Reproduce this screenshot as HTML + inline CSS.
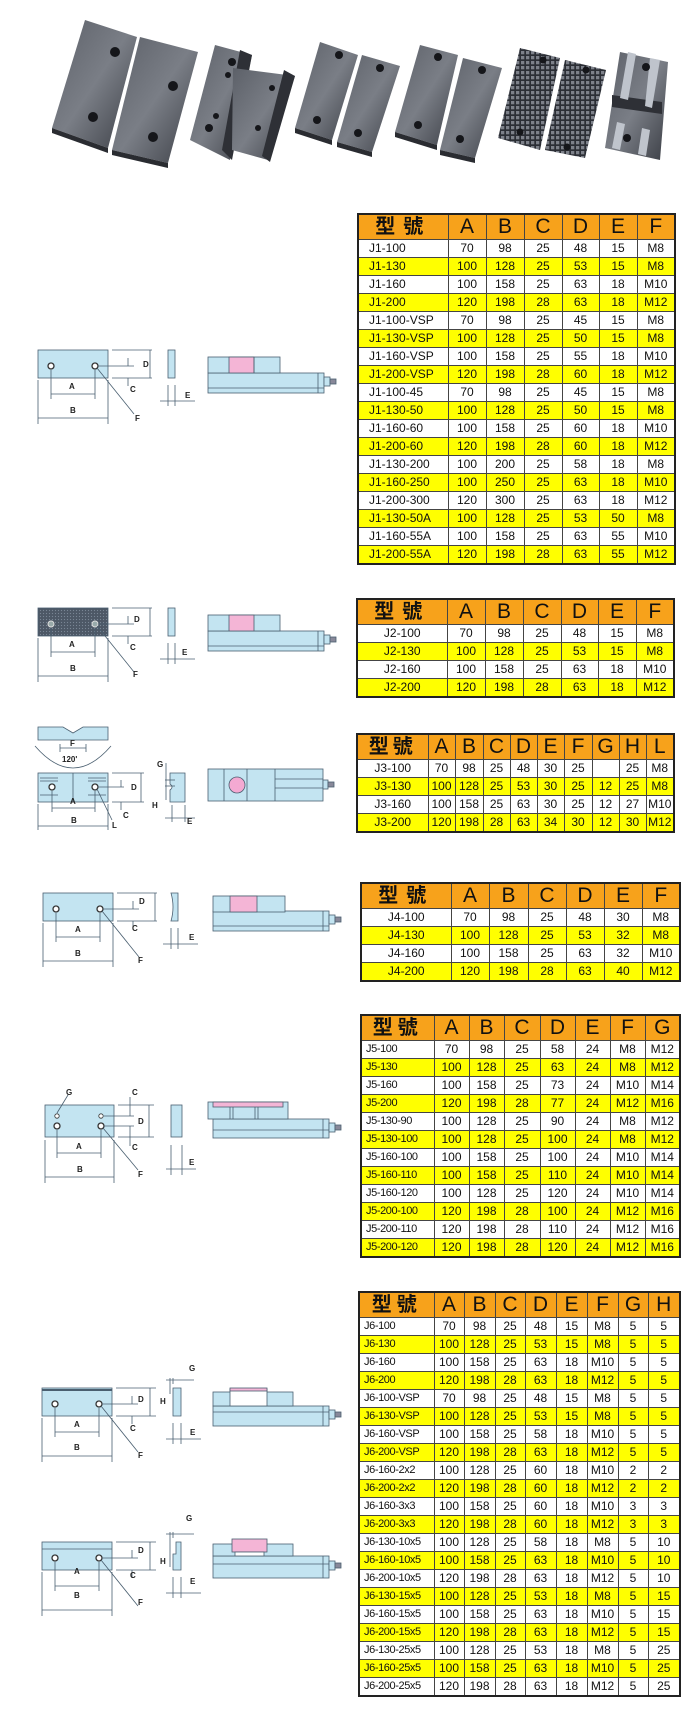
<!DOCTYPE html>
<html><head><meta charset="utf-8">
<style>
html,body{margin:0;padding:0;background:#fff;}
body{width:700px;height:1716px;position:relative;overflow:hidden;font-family:"Liberation Sans","Noto Sans CJK TC",sans-serif;}
table{position:absolute;border-collapse:collapse;table-layout:fixed;border:2px solid #222;}
td{border:1px solid #444;padding:0;text-align:center;font-size:12px;color:#111;height:17px;line-height:17px;overflow:hidden;white-space:nowrap;}
tr.h td{background:#f7a21b;font-size:21px;height:24px;line-height:24px;color:#111;}
tr.h td:first-child{font-family:"Liberation Sans","Noto Sans CJK TC",sans-serif;font-weight:bold;letter-spacing:8px;font-size:20px;}
tr.y td{background:#ffff00;}
td.m{text-align:left;padding-left:10px;}
table.n td.m{padding-left:4px;font-size:11px;letter-spacing:-0.4px;}
svg{position:absolute;left:0;top:0;}
</style></head><body>
<svg width="700" height="1716" viewBox="0 0 700 1716" xmlns="http://www.w3.org/2000/svg" font-family="Liberation Sans, sans-serif">
<defs>
<linearGradient id="st" x1="0" y1="0" x2="1" y2="1"><stop offset="0" stop-color="#5c6068"/><stop offset="0.5" stop-color="#7a7e86"/><stop offset="1" stop-color="#3a3d44"/></linearGradient>
<pattern id="grid" width="5" height="5" patternUnits="userSpaceOnUse"><rect width="5" height="5" fill="#2b2e35"/><rect x="1" y="1" width="3.3" height="3.3" fill="#7d818a"/></pattern>
<pattern id="dots" width="3" height="3" patternUnits="userSpaceOnUse"><rect width="3" height="3" fill="#4d5866"/><circle cx="1.5" cy="1.5" r="0.6" fill="#7a8695"/></pattern>
</defs>
<!-- photo -->
<g stroke="none">
<polygon points="85,20 137,37 108,148 52,128" fill="url(#st)"/><polygon points="52,128 108,148 108,153 52,133" fill="#2a2c31"/>
<polygon points="140,37 198,52 168,163 112,150" fill="url(#st)"/><polygon points="112,150 168,163 168,168 112,155" fill="#2a2c31"/>
<polygon points="215,45 252,55 230,160 190,140" fill="url(#st)"/><polygon points="240,50 252,55 232,160 222,150" fill="#2e3036"/>
<polygon points="233,68 295,76 268,160 232,150" fill="url(#st)"/><polygon points="284,70 295,76 270,162 262,156" fill="#2e3036"/>
<polygon points="320,42 358,55 332,140 295,128" fill="url(#st)"/><polygon points="295,128 332,140 332,145 295,133" fill="#2a2c31"/>
<polygon points="362,55 400,66 372,152 337,142" fill="url(#st)"/><polygon points="337,142 372,152 372,157 337,147" fill="#2a2c31"/>
<polygon points="420,45 458,55 437,145 395,132" fill="url(#st)"/><polygon points="395,132 437,145 437,150 395,137" fill="#2a2c31"/>
<polygon points="463,58 502,68 475,158 440,150" fill="url(#st)"/><polygon points="440,150 475,158 475,163 440,155" fill="#2a2c31"/>
<polygon points="520,48 560,58 540,150 498,138" fill="url(#grid)"/>
<polygon points="565,60 606,70 585,158 545,150" fill="url(#grid)"/>
<polygon points="620,52 668,62 660,160 605,148" fill="url(#st)"/><rect x="612" y="95" width="50" height="12" fill="#2e3036" transform="skewY(8) translate(0,-86)"/>
<polygon points="628,52 636,54 628,100 620,98" fill="#bfc4cc"/><polygon points="650,58 660,60 652,108 645,106" fill="#bfc4cc"/>
<polygon points="617,122 625,124 620,150 612,148" fill="#bfc4cc"/><polygon points="642,128 650,130 646,156 638,154" fill="#bfc4cc"/>
</g>
<g fill="#15161a">
<circle cx="115" cy="52" r="5"/><circle cx="93" cy="117" r="5"/><circle cx="173" cy="86" r="5"/><circle cx="153" cy="137" r="5"/>
<circle cx="232" cy="62" r="4"/><circle cx="228" cy="75" r="3"/><circle cx="216" cy="116" r="3"/><circle cx="209" cy="128" r="4"/>
<circle cx="272" cy="88" r="3"/><circle cx="258" cy="128" r="3"/>
<circle cx="339" cy="55" r="4"/><circle cx="317" cy="120" r="4"/><circle cx="380" cy="68" r="4"/><circle cx="358" cy="133" r="4"/>
<circle cx="438" cy="57" r="4"/><circle cx="418" cy="125" r="4"/><circle cx="482" cy="70" r="4"/><circle cx="460" cy="139" r="4"/>
<circle cx="543" cy="60" r="3.5"/><circle cx="520" cy="132" r="3.5"/><circle cx="586" cy="70" r="3.5"/><circle cx="567" cy="147" r="3.5"/>
<circle cx="646" cy="67" r="4"/><circle cx="627" cy="138" r="4"/>
</g>

<!-- Diagram J1 -->
<g stroke="#4a5f70" stroke-width="0.8" fill="none" font-size="8" font-weight="bold">
<rect x="38" y="350" width="70" height="28" fill="#c3e4f1"/>
<circle cx="51" cy="366" r="3" fill="#fff" stroke="#333" stroke-width="1.3"/><circle cx="95" cy="366" r="3" fill="#fff" stroke="#333" stroke-width="1.3"/>
<line x1="112" y1="350" x2="152" y2="350"/><line x1="112" y1="378" x2="152" y2="378"/><line x1="150" y1="350" x2="150" y2="378"/>
<line x1="98" y1="366" x2="134" y2="366"/><line x1="128" y1="358" x2="128" y2="366"/><line x1="128" y1="378" x2="128" y2="386"/>
<line x1="51" y1="370" x2="51" y2="399"/><line x1="95" y1="370" x2="95" y2="399"/><line x1="51" y1="394" x2="95" y2="394"/>
<line x1="38" y1="380" x2="38" y2="424"/><line x1="108" y1="380" x2="108" y2="424"/><line x1="38" y1="418" x2="108" y2="418"/>
<line x1="97" y1="368" x2="134" y2="414"/>
<rect x="168" y="350" width="7" height="28" fill="#c3e4f1"/>
<line x1="168" y1="385" x2="168" y2="406"/><line x1="175" y1="385" x2="175" y2="406"/><line x1="160" y1="401" x2="195" y2="401"/>
<rect x="208" y="373" width="116" height="20" fill="#c3e4f1"/><line x1="208" y1="388" x2="324" y2="388"/><line x1="318" y1="373" x2="318" y2="393"/>
<rect x="208" y="357" width="72" height="16" fill="#c3e4f1"/><rect x="229" y="357" width="25" height="16" fill="#f4b5d6"/><line x1="254" y1="357" x2="254" y2="373"/>
<rect x="324" y="377" width="6" height="9" fill="#c3e4f1"/><rect x="330" y="379" width="6" height="5" fill="#889"/>
<g fill="#222" stroke="none"><text x="143" y="367">D</text><text x="130" y="392">C</text><text x="69" y="389">A</text><text x="70" y="413">B</text><text x="135" y="421">F</text><text x="185" y="398">E</text></g>
</g>

<!-- J2 -->
<g stroke="#4a5f70" stroke-width="0.8" fill="none" font-size="8" font-weight="bold" transform="translate(0,258)">
<rect x="38" y="350" width="70" height="28" fill="url(#dots)"/>
<circle cx="51" cy="366" r="3" fill="#9aa" stroke="#ddd" stroke-width="1"/><circle cx="95" cy="366" r="3" fill="#9aa" stroke="#ddd" stroke-width="1"/>
<line x1="112" y1="350" x2="152" y2="350"/><line x1="112" y1="378" x2="152" y2="378"/><line x1="150" y1="350" x2="150" y2="378"/>
<line x1="98" y1="366" x2="134" y2="366"/><line x1="128" y1="358" x2="128" y2="366"/><line x1="128" y1="378" x2="128" y2="386"/>
<line x1="51" y1="370" x2="51" y2="399"/><line x1="95" y1="370" x2="95" y2="399"/><line x1="51" y1="394" x2="95" y2="394"/>
<line x1="38" y1="380" x2="38" y2="424"/><line x1="108" y1="380" x2="108" y2="424"/><line x1="38" y1="418" x2="108" y2="418"/>
<line x1="97" y1="368" x2="134" y2="414"/>
<rect x="168" y="350" width="7" height="28" fill="#c3e4f1"/>
<line x1="168" y1="385" x2="168" y2="406"/><line x1="175" y1="385" x2="175" y2="406"/><line x1="160" y1="401" x2="195" y2="401"/>
<rect x="208" y="373" width="116" height="20" fill="#c3e4f1"/><line x1="208" y1="388" x2="324" y2="388"/><line x1="318" y1="373" x2="318" y2="393"/>
<rect x="208" y="357" width="72" height="16" fill="#c3e4f1"/><rect x="229" y="357" width="25" height="16" fill="#f4b5d6"/>
<rect x="324" y="377" width="6" height="9" fill="#c3e4f1"/><rect x="330" y="379" width="6" height="5" fill="#889"/>
<g fill="#222" stroke="none"><text x="134" y="364">D</text><text x="130" y="392">C</text><text x="69" y="389">A</text><text x="70" y="413">B</text><text x="133" y="419">F</text><text x="182" y="397">E</text></g>
</g>

<!-- J3 -->
<g stroke="#4a5f70" stroke-width="0.8" fill="none" font-size="8" font-weight="bold">
<path d="M38,727 L63,727 L73,733 L83,727 L108,727 L108,740 L38,740 Z" fill="#c3e4f1"/>
<path d="M35,746 Q73,790 111,746"/><line x1="60" y1="744" x2="60" y2="752"/><line x1="86" y1="744" x2="86" y2="752"/><line x1="60" y1="748" x2="86" y2="748"/>
<rect x="38" y="773" width="70" height="29" fill="#c3e4f1"/><line x1="73" y1="773" x2="73" y2="802"/>
<line x1="40" y1="778" x2="58" y2="778"/><line x1="40" y1="781" x2="58" y2="781"/><line x1="40" y1="795" x2="58" y2="795"/>
<line x1="88" y1="778" x2="106" y2="778"/><line x1="88" y1="781" x2="106" y2="781"/><line x1="88" y1="795" x2="106" y2="795"/>
<circle cx="52" cy="787" r="3" fill="#fff" stroke="#333" stroke-width="1.3"/><circle cx="95" cy="787" r="3" fill="#fff" stroke="#333" stroke-width="1.3"/>
<line x1="112" y1="773" x2="144" y2="773"/><line x1="112" y1="802" x2="144" y2="802"/><line x1="141" y1="773" x2="141" y2="802"/>
<line x1="98" y1="787" x2="124" y2="787"/><line x1="121" y1="780" x2="121" y2="787"/><line x1="121" y1="802" x2="121" y2="810"/>
<line x1="52" y1="791" x2="52" y2="812"/><line x1="95" y1="791" x2="95" y2="812"/><line x1="52" y1="808" x2="95" y2="808"/>
<line x1="38" y1="804" x2="38" y2="830"/><line x1="108" y1="804" x2="108" y2="830"/><line x1="38" y1="826" x2="108" y2="826"/>
<line x1="97" y1="789" x2="112" y2="820"/>
<path d="M170,773 L185,773 L185,802 L170,802 L170,790 Q174,787 170,784 Z" fill="#c3e4f1"/>
<line x1="165" y1="780" x2="175" y2="780"/><line x1="165" y1="786" x2="175" y2="786"/><line x1="166" y1="763" x2="166" y2="800"/>
<line x1="172" y1="805" x2="172" y2="822"/><line x1="185" y1="805" x2="185" y2="822"/><line x1="165" y1="818" x2="195" y2="818"/>
<rect x="208" y="769" width="115" height="32" fill="#c3e4f1"/><line x1="224" y1="769" x2="224" y2="801"/><line x1="247" y1="769" x2="247" y2="801"/><line x1="275" y1="769" x2="275" y2="801"/>
<line x1="275" y1="779" x2="323" y2="779"/><line x1="275" y1="788" x2="323" y2="788"/>
<circle cx="237" cy="785" r="8" fill="#f4a9d2"/>
<rect x="323" y="780" width="5" height="9" fill="#c3e4f1"/><rect x="328" y="782" width="6" height="5" fill="#889"/>
<g fill="#222" stroke="none"><text x="70" y="746">F</text><text x="62" y="762">120'</text><text x="131" y="790">D</text><text x="123" y="818">C</text><text x="70" y="804">A</text><text x="71" y="823">B</text><text x="112" y="828">L</text><text x="157" y="767">G</text><text x="152" y="808">H</text><text x="187" y="824">E</text></g>
</g>

<!-- J4 -->
<g stroke="#4a5f70" stroke-width="0.8" fill="none" font-size="8" font-weight="bold" transform="translate(5,543)">
<rect x="38" y="350" width="70" height="28" fill="#c3e4f1"/>
<circle cx="51" cy="366" r="3" fill="#fff" stroke="#333" stroke-width="1.3"/><circle cx="95" cy="366" r="3" fill="#fff" stroke="#333" stroke-width="1.3"/>
<line x1="112" y1="350" x2="152" y2="350"/><line x1="112" y1="378" x2="152" y2="378"/><line x1="150" y1="350" x2="150" y2="378"/>
<line x1="98" y1="366" x2="134" y2="366"/><line x1="128" y1="358" x2="128" y2="366"/><line x1="128" y1="378" x2="128" y2="386"/>
<line x1="51" y1="370" x2="51" y2="399"/><line x1="95" y1="370" x2="95" y2="399"/><line x1="51" y1="394" x2="95" y2="394"/>
<line x1="38" y1="380" x2="38" y2="424"/><line x1="108" y1="380" x2="108" y2="424"/><line x1="38" y1="418" x2="108" y2="418"/>
<line x1="97" y1="368" x2="134" y2="414"/>
<path d="M166,350 L173,350 L173,378 L166,378 Q170,364 166,350 Z" fill="#c3e4f1"/>
<line x1="166" y1="385" x2="166" y2="406"/><line x1="173" y1="385" x2="173" y2="406"/><line x1="158" y1="401" x2="193" y2="401"/>
<rect x="208" y="368" width="116" height="20" fill="#c3e4f1"/><line x1="208" y1="383" x2="324" y2="383"/><line x1="318" y1="368" x2="318" y2="388"/>
<rect x="208" y="353" width="72" height="16" fill="#c3e4f1"/><rect x="225" y="353" width="27" height="16" fill="#f4b5d6"/>
<rect x="324" y="372" width="6" height="9" fill="#c3e4f1"/><rect x="330" y="374" width="6" height="5" fill="#889"/>
<g fill="#222" stroke="none"><text x="134" y="361">D</text><text x="127" y="388">C</text><text x="70" y="389">A</text><text x="70" y="413">B</text><text x="133" y="420">F</text><text x="184" y="397">E</text></g>
</g>

<!-- J5 -->
<g stroke="#4a5f70" stroke-width="0.8" fill="none" font-size="8" font-weight="bold">
<rect x="45" y="1105" width="69" height="32" fill="#c3e4f1"/>
<circle cx="57" cy="1116" r="2.2" fill="#fff" stroke="#333"/><circle cx="101" cy="1116" r="2.2" fill="#fff" stroke="#333"/>
<circle cx="57" cy="1126" r="3" fill="#fff" stroke="#333" stroke-width="1.3"/><circle cx="101" cy="1126" r="3" fill="#fff" stroke="#333" stroke-width="1.3"/>
<line x1="104" y1="1116" x2="134" y2="1116"/><line x1="104" y1="1126" x2="134" y2="1126"/>
<line x1="118" y1="1105" x2="154" y2="1105"/><line x1="118" y1="1137" x2="154" y2="1137"/><line x1="149" y1="1105" x2="149" y2="1137"/>
<line x1="130" y1="1097" x2="130" y2="1116"/><line x1="130" y1="1126" x2="130" y2="1146"/>
<line x1="57" y1="1130" x2="57" y2="1158"/><line x1="101" y1="1130" x2="101" y2="1158"/><line x1="57" y1="1153" x2="101" y2="1153"/>
<line x1="45" y1="1140" x2="45" y2="1183"/><line x1="114" y1="1140" x2="114" y2="1183"/><line x1="45" y1="1177" x2="114" y2="1177"/>
<line x1="103" y1="1128" x2="138" y2="1170"/><line x1="57" y1="1113" x2="68" y2="1095"/>
<rect x="171" y="1105" width="11" height="32" fill="#c3e4f1"/>
<line x1="171" y1="1145" x2="171" y2="1175"/><line x1="182" y1="1145" x2="182" y2="1175"/><line x1="166" y1="1169" x2="196" y2="1169"/>
<rect x="213" y="1119" width="116" height="19" fill="#c3e4f1"/><line x1="213" y1="1130" x2="329" y2="1130"/><line x1="323" y1="1119" x2="323" y2="1138"/>
<rect x="208" y="1102" width="80" height="17" fill="#c3e4f1"/><rect x="213" y="1102" width="70" height="5" fill="#f4b5d6"/>
<line x1="230" y1="1107" x2="230" y2="1119"/><line x1="233" y1="1107" x2="233" y2="1119"/><line x1="255" y1="1107" x2="255" y2="1119"/><line x1="258" y1="1107" x2="258" y2="1119"/>
<rect x="329" y="1123" width="6" height="9" fill="#c3e4f1"/><rect x="335" y="1125" width="6" height="5" fill="#889"/>
<g fill="#222" stroke="none"><text x="66" y="1095">G</text><text x="132" y="1095">C</text><text x="138" y="1124">D</text><text x="132" y="1150">C</text><text x="76" y="1149">A</text><text x="77" y="1172">B</text><text x="138" y="1177">F</text><text x="189" y="1165">E</text></g>
</g>

<!-- J6 a -->
<g stroke="#4a5f70" stroke-width="0.8" fill="none" font-size="8" font-weight="bold" transform="translate(4,1038)">
<rect x="38" y="350" width="70" height="28" fill="#c3e4f1"/><line x1="38" y1="352" x2="108" y2="352" stroke-width="2"/>
<circle cx="51" cy="366" r="3" fill="#fff" stroke="#333" stroke-width="1.3"/><circle cx="95" cy="366" r="3" fill="#fff" stroke="#333" stroke-width="1.3"/>
<line x1="112" y1="350" x2="152" y2="350"/><line x1="112" y1="378" x2="152" y2="378"/><line x1="146" y1="350" x2="146" y2="378"/>
<line x1="98" y1="366" x2="134" y2="366"/><line x1="128" y1="358" x2="128" y2="366"/><line x1="128" y1="378" x2="128" y2="386"/>
<line x1="51" y1="370" x2="51" y2="399"/><line x1="95" y1="370" x2="95" y2="399"/><line x1="51" y1="394" x2="95" y2="394"/>
<line x1="38" y1="380" x2="38" y2="424"/><line x1="108" y1="380" x2="108" y2="424"/><line x1="38" y1="418" x2="108" y2="418"/>
<line x1="97" y1="368" x2="134" y2="414"/>
<path d="M169,350 L177,350 L177,378 L169,378 L169,355 Z" fill="#c3e4f1"/>
<line x1="166" y1="340" x2="166" y2="356"/><line x1="169" y1="340" x2="169" y2="346"/><line x1="162" y1="342" x2="190" y2="342"/>
<line x1="169" y1="385" x2="169" y2="406"/><line x1="177" y1="385" x2="177" y2="406"/><line x1="162" y1="401" x2="197" y2="401"/>
<rect x="209" y="368" width="116" height="20" fill="#c3e4f1"/><line x1="209" y1="374" x2="325" y2="374"/><line x1="319" y1="368" x2="319" y2="388"/>
<rect x="209" y="354" width="80" height="14" fill="#c3e4f1"/><rect x="226" y="351" width="37" height="17" fill="#fff"/><rect x="226" y="350" width="37" height="3" fill="#f4b5d6"/>
<rect x="325" y="372" width="6" height="9" fill="#c3e4f1"/><rect x="331" y="374" width="6" height="5" fill="#889"/>
<g fill="#222" stroke="none"><text x="134" y="364">D</text><text x="126" y="393">C</text><text x="70" y="389">A</text><text x="70" y="412">B</text><text x="134" y="420">F</text><text x="185" y="333">G</text><text x="156" y="366">H</text><text x="186" y="397">E</text></g>
</g>

<!-- J6 b -->
<g stroke="#4a5f70" stroke-width="0.8" fill="none" font-size="8" font-weight="bold" transform="translate(4,1192)">
<rect x="38" y="350" width="70" height="28" fill="#c3e4f1"/><line x1="38" y1="357" x2="108" y2="357"/>
<circle cx="51" cy="366" r="3" fill="#fff" stroke="#333" stroke-width="1.3"/><circle cx="95" cy="366" r="3" fill="#fff" stroke="#333" stroke-width="1.3"/>
<line x1="112" y1="350" x2="152" y2="350"/><line x1="112" y1="378" x2="152" y2="378"/><line x1="146" y1="350" x2="146" y2="378"/>
<line x1="98" y1="366" x2="134" y2="366"/><line x1="128" y1="358" x2="128" y2="366"/><line x1="128" y1="378" x2="128" y2="386"/>
<line x1="51" y1="370" x2="51" y2="399"/><line x1="95" y1="370" x2="95" y2="399"/><line x1="51" y1="394" x2="95" y2="394"/>
<line x1="38" y1="380" x2="38" y2="424"/><line x1="108" y1="380" x2="108" y2="424"/><line x1="38" y1="418" x2="108" y2="418"/>
<line x1="97" y1="368" x2="134" y2="414"/>
<path d="M172,350 L177,350 L177,378 L169,378 L169,362 L172,362 Z" fill="#c3e4f1"/>
<line x1="166" y1="340" x2="166" y2="375"/><line x1="169" y1="340" x2="169" y2="346"/><line x1="162" y1="342" x2="190" y2="342"/>
<line x1="169" y1="385" x2="169" y2="406"/><line x1="177" y1="385" x2="177" y2="406"/><line x1="162" y1="401" x2="197" y2="401"/>
<rect x="209" y="364" width="116" height="22" fill="#c3e4f1"/><line x1="209" y1="372" x2="325" y2="372"/><line x1="319" y1="364" x2="319" y2="386"/>
<rect x="209" y="352" width="80" height="12" fill="#c3e4f1"/><rect x="228" y="347" width="35" height="13" fill="#f4b5d6"/><rect x="231" y="360" width="29" height="4" fill="#fff"/>
<rect x="325" y="369" width="6" height="9" fill="#c3e4f1"/><rect x="331" y="371" width="6" height="5" fill="#889"/>
<g fill="#222" stroke="none"><text x="134" y="361">D</text><text x="126" y="386">C</text><text x="70" y="382">A</text><text x="70" y="406">B</text><text x="134" y="413">F</text><text x="182" y="329">G</text><text x="156" y="372">H</text><text x="186" y="392">E</text></g>
</g>
</svg>

<!-- J1 table -->
<table style="left:357px;top:213px;width:317px;">
<colgroup><col style="width:90px"><col style="width:38px"><col style="width:38px"><col style="width:38px"><col style="width:37px"><col style="width:38px"><col style="width:38px"></colgroup>
<tr class="h"><td>型號</td><td>A</td><td>B</td><td>C</td><td>D</td><td>E</td><td>F</td></tr>
<tr><td class="m">J1-100</td><td>70</td><td>98</td><td>25</td><td>48</td><td>15</td><td>M8</td></tr>
<tr class="y"><td class="m">J1-130</td><td>100</td><td>128</td><td>25</td><td>53</td><td>15</td><td>M8</td></tr>
<tr><td class="m">J1-160</td><td>100</td><td>158</td><td>25</td><td>63</td><td>18</td><td>M10</td></tr>
<tr class="y"><td class="m">J1-200</td><td>120</td><td>198</td><td>28</td><td>63</td><td>18</td><td>M12</td></tr>
<tr><td class="m">J1-100-VSP</td><td>70</td><td>98</td><td>25</td><td>45</td><td>15</td><td>M8</td></tr>
<tr class="y"><td class="m">J1-130-VSP</td><td>100</td><td>128</td><td>25</td><td>50</td><td>15</td><td>M8</td></tr>
<tr><td class="m">J1-160-VSP</td><td>100</td><td>158</td><td>25</td><td>55</td><td>18</td><td>M10</td></tr>
<tr class="y"><td class="m">J1-200-VSP</td><td>120</td><td>198</td><td>28</td><td>60</td><td>18</td><td>M12</td></tr>
<tr><td class="m">J1-100-45</td><td>70</td><td>98</td><td>25</td><td>45</td><td>15</td><td>M8</td></tr>
<tr class="y"><td class="m">J1-130-50</td><td>100</td><td>128</td><td>25</td><td>50</td><td>15</td><td>M8</td></tr>
<tr><td class="m">J1-160-60</td><td>100</td><td>158</td><td>25</td><td>60</td><td>18</td><td>M10</td></tr>
<tr class="y"><td class="m">J1-200-60</td><td>120</td><td>198</td><td>28</td><td>60</td><td>18</td><td>M12</td></tr>
<tr><td class="m">J1-130-200</td><td>100</td><td>200</td><td>25</td><td>58</td><td>18</td><td>M8</td></tr>
<tr class="y"><td class="m">J1-160-250</td><td>100</td><td>250</td><td>25</td><td>63</td><td>18</td><td>M10</td></tr>
<tr><td class="m">J1-200-300</td><td>120</td><td>300</td><td>25</td><td>63</td><td>18</td><td>M12</td></tr>
<tr class="y"><td class="m">J1-130-50A</td><td>100</td><td>128</td><td>25</td><td>53</td><td>50</td><td>M8</td></tr>
<tr><td class="m">J1-160-55A</td><td>100</td><td>158</td><td>25</td><td>63</td><td>55</td><td>M10</td></tr>
<tr class="y"><td class="m">J1-200-55A</td><td>120</td><td>198</td><td>28</td><td>63</td><td>55</td><td>M12</td></tr>
</table>

<!-- J2 -->
<table style="left:356px;top:598px;width:317px;">
<colgroup><col style="width:90px"><col style="width:38px"><col style="width:38px"><col style="width:38px"><col style="width:37px"><col style="width:38px"><col style="width:38px"></colgroup>
<tr class="h"><td>型號</td><td>A</td><td>B</td><td>C</td><td>D</td><td>E</td><td>F</td></tr>
<tr><td>J2-100</td><td>70</td><td>98</td><td>25</td><td>48</td><td>15</td><td>M8</td></tr>
<tr class="y"><td>J2-130</td><td>100</td><td>128</td><td>25</td><td>53</td><td>15</td><td>M8</td></tr>
<tr><td>J2-160</td><td>100</td><td>158</td><td>25</td><td>63</td><td>18</td><td>M10</td></tr>
<tr class="y"><td>J2-200</td><td>120</td><td>198</td><td>28</td><td>63</td><td>18</td><td>M12</td></tr>
</table>

<!-- J3 -->
<table style="left:356px;top:733px;width:317px;">
<colgroup><col style="width:71px"><col style="width:27px"><col style="width:28px"><col style="width:27px"><col style="width:27px"><col style="width:27px"><col style="width:28px"><col style="width:27px"><col style="width:27px"><col style="width:28px"></colgroup>
<tr class="h"><td style="letter-spacing:4px">型號</td><td>A</td><td>B</td><td>C</td><td>D</td><td>E</td><td>F</td><td>G</td><td>H</td><td>L</td></tr>
<tr><td>J3-100</td><td>70</td><td>98</td><td>25</td><td>48</td><td>30</td><td>25</td><td></td><td>25</td><td>M8</td></tr>
<tr class="y"><td>J3-130</td><td>100</td><td>128</td><td>25</td><td>53</td><td>30</td><td>25</td><td>12</td><td>25</td><td>M8</td></tr>
<tr><td>J3-160</td><td>100</td><td>158</td><td>25</td><td>63</td><td>30</td><td>25</td><td>12</td><td>27</td><td>M10</td></tr>
<tr class="y"><td>J3-200</td><td>120</td><td>198</td><td>28</td><td>63</td><td>34</td><td>30</td><td>12</td><td>30</td><td>M12</td></tr>
</table>

<!-- J4 -->
<table style="left:360px;top:882px;width:319px;">
<colgroup><col style="width:90px"><col style="width:38px"><col style="width:39px"><col style="width:38px"><col style="width:38px"><col style="width:38px"><col style="width:38px"></colgroup>
<tr class="h"><td>型號</td><td>A</td><td>B</td><td>C</td><td>D</td><td>E</td><td>F</td></tr>
<tr><td>J4-100</td><td>70</td><td>98</td><td>25</td><td>48</td><td>30</td><td>M8</td></tr>
<tr class="y"><td>J4-130</td><td>100</td><td>128</td><td>25</td><td>53</td><td>32</td><td>M8</td></tr>
<tr><td>J4-160</td><td>100</td><td>158</td><td>25</td><td>63</td><td>32</td><td>M10</td></tr>
<tr class="y"><td>J4-200</td><td>120</td><td>198</td><td>28</td><td>63</td><td>40</td><td>M12</td></tr>
</table>

<!-- J5 -->
<table class="n" style="left:360px;top:1014px;width:319px;">
<colgroup><col style="width:73px"><col style="width:35px"><col style="width:35px"><col style="width:36px"><col style="width:35px"><col style="width:35px"><col style="width:35px"><col style="width:35px"></colgroup>
<tr class="h"><td style="letter-spacing:5px">型號</td><td>A</td><td>B</td><td>C</td><td>D</td><td>E</td><td>F</td><td>G</td></tr>
<tr><td class="m">J5-100</td><td>70</td><td>98</td><td>25</td><td>58</td><td>24</td><td>M8</td><td>M12</td></tr>
<tr class="y"><td class="m">J5-130</td><td>100</td><td>128</td><td>25</td><td>63</td><td>24</td><td>M8</td><td>M12</td></tr>
<tr><td class="m">J5-160</td><td>100</td><td>158</td><td>25</td><td>73</td><td>24</td><td>M10</td><td>M14</td></tr>
<tr class="y"><td class="m">J5-200</td><td>120</td><td>198</td><td>28</td><td>77</td><td>24</td><td>M12</td><td>M16</td></tr>
<tr><td class="m">J5-130-90</td><td>100</td><td>128</td><td>25</td><td>90</td><td>24</td><td>M8</td><td>M12</td></tr>
<tr class="y"><td class="m">J5-130-100</td><td>100</td><td>128</td><td>25</td><td>100</td><td>24</td><td>M8</td><td>M12</td></tr>
<tr><td class="m">J5-160-100</td><td>100</td><td>158</td><td>25</td><td>100</td><td>24</td><td>M10</td><td>M14</td></tr>
<tr class="y"><td class="m">J5-160-110</td><td>100</td><td>158</td><td>25</td><td>110</td><td>24</td><td>M10</td><td>M14</td></tr>
<tr><td class="m">J5-160-120</td><td>100</td><td>128</td><td>25</td><td>120</td><td>24</td><td>M10</td><td>M14</td></tr>
<tr class="y"><td class="m">J5-200-100</td><td>120</td><td>198</td><td>28</td><td>100</td><td>24</td><td>M12</td><td>M16</td></tr>
<tr><td class="m">J5-200-110</td><td>120</td><td>198</td><td>28</td><td>110</td><td>24</td><td>M12</td><td>M16</td></tr>
<tr class="y"><td class="m">J5-200-120</td><td>120</td><td>198</td><td>28</td><td>120</td><td>24</td><td>M12</td><td>M16</td></tr>
</table>

<!-- J6 -->
<table class="n" style="left:358px;top:1291px;width:321px;">
<colgroup><col style="width:75px"><col style="width:30px"><col style="width:31px"><col style="width:30px"><col style="width:31px"><col style="width:31px"><col style="width:31px"><col style="width:30px"><col style="width:32px"></colgroup>
<tr class="h"><td style="letter-spacing:5px">型號</td><td>A</td><td>B</td><td>C</td><td>D</td><td>E</td><td>F</td><td>G</td><td>H</td></tr>
<tr><td class="m">J6-100</td><td>70</td><td>98</td><td>25</td><td>48</td><td>15</td><td>M8</td><td>5</td><td>5</td></tr>
<tr class="y"><td class="m">J6-130</td><td>100</td><td>128</td><td>25</td><td>53</td><td>15</td><td>M8</td><td>5</td><td>5</td></tr>
<tr><td class="m">J6-160</td><td>100</td><td>158</td><td>25</td><td>63</td><td>18</td><td>M10</td><td>5</td><td>5</td></tr>
<tr class="y"><td class="m">J6-200</td><td>120</td><td>198</td><td>28</td><td>63</td><td>18</td><td>M12</td><td>5</td><td>5</td></tr>
<tr><td class="m">J6-100-VSP</td><td>70</td><td>98</td><td>25</td><td>48</td><td>15</td><td>M8</td><td>5</td><td>5</td></tr>
<tr class="y"><td class="m">J6-130-VSP</td><td>100</td><td>128</td><td>25</td><td>53</td><td>15</td><td>M8</td><td>5</td><td>5</td></tr>
<tr><td class="m">J6-160-VSP</td><td>100</td><td>158</td><td>25</td><td>58</td><td>18</td><td>M10</td><td>5</td><td>5</td></tr>
<tr class="y"><td class="m">J6-200-VSP</td><td>120</td><td>198</td><td>28</td><td>63</td><td>18</td><td>M12</td><td>5</td><td>5</td></tr>
<tr><td class="m">J6-160-2x2</td><td>100</td><td>128</td><td>25</td><td>60</td><td>18</td><td>M10</td><td>2</td><td>2</td></tr>
<tr class="y"><td class="m">J6-200-2x2</td><td>120</td><td>198</td><td>28</td><td>60</td><td>18</td><td>M12</td><td>2</td><td>2</td></tr>
<tr><td class="m">J6-160-3x3</td><td>100</td><td>158</td><td>25</td><td>60</td><td>18</td><td>M10</td><td>3</td><td>3</td></tr>
<tr class="y"><td class="m">J6-200-3x3</td><td>120</td><td>198</td><td>28</td><td>60</td><td>18</td><td>M12</td><td>3</td><td>3</td></tr>
<tr><td class="m">J6-130-10x5</td><td>100</td><td>128</td><td>25</td><td>58</td><td>18</td><td>M8</td><td>5</td><td>10</td></tr>
<tr class="y"><td class="m">J6-160-10x5</td><td>100</td><td>158</td><td>25</td><td>63</td><td>18</td><td>M10</td><td>5</td><td>10</td></tr>
<tr><td class="m">J6-200-10x5</td><td>120</td><td>198</td><td>28</td><td>63</td><td>18</td><td>M12</td><td>5</td><td>10</td></tr>
<tr class="y"><td class="m">J6-130-15x5</td><td>100</td><td>128</td><td>25</td><td>53</td><td>18</td><td>M8</td><td>5</td><td>15</td></tr>
<tr><td class="m">J6-160-15x5</td><td>100</td><td>158</td><td>25</td><td>63</td><td>18</td><td>M10</td><td>5</td><td>15</td></tr>
<tr class="y"><td class="m">J6-200-15x5</td><td>120</td><td>198</td><td>28</td><td>63</td><td>18</td><td>M12</td><td>5</td><td>15</td></tr>
<tr><td class="m">J6-130-25x5</td><td>100</td><td>128</td><td>25</td><td>53</td><td>18</td><td>M8</td><td>5</td><td>25</td></tr>
<tr class="y"><td class="m">J6-160-25x5</td><td>100</td><td>158</td><td>25</td><td>63</td><td>18</td><td>M10</td><td>5</td><td>25</td></tr>
<tr><td class="m">J6-200-25x5</td><td>120</td><td>198</td><td>28</td><td>63</td><td>18</td><td>M12</td><td>5</td><td>25</td></tr>
</table>
</body></html>
